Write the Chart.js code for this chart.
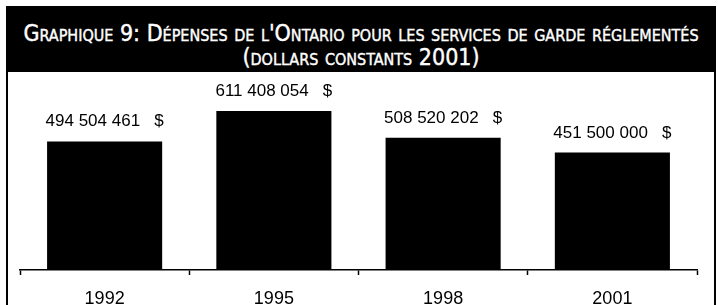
<!DOCTYPE html>
<html>
<head>
<meta charset="utf-8">
<script src="https://cdn.jsdelivr.net/npm/chart.js@4"></script>
<style>
  html, body { margin: 0; padding: 0; background: #fff; overflow: hidden; }
  body { width: 718px; height: 305px; position: relative; }
  #frame {
    position: absolute; left: 6px; top: 6px; width: 706px; height: 320px;
    border-left: 2px solid #000; border-right: 2px solid #000;
  }
  #header {
    height: 66px; background: #000; color: #fff; text-align: center;
    font-family: 'Liberation Sans Narrow', 'DejaVu Sans Condensed', 'Liberation Sans', sans-serif;
    font-stretch: condensed; font-variant: small-caps; font-size: 23px;
    -webkit-text-stroke: 0.4px #fff;
    line-height: 24px; padding-top: 15px; box-sizing: border-box; white-space: nowrap;
  }
  #wrap { position: absolute; left: 0; top: 66px; width: 706px; height: 250px; }
</style>
</head>
<body>
<div id="frame">
  <div id="header">Graphique 9: Dépenses de l'Ontario pour les services de garde réglementés<br>(dollars constants 2001)</div>
  <div id="wrap"><canvas id="spendChart"></canvas></div>
</div>
<script>
// Ontario regulated child care spending (constant 2001 dollars)
const years = ['1992', '1995', '1998', '2001'];
const spending = [494504461, 611408054, 508520202, 451500000];

function formatDollars(v) {
  return String(v).replace(/\B(?=(\d{3})+(?!\d))/g, ' ') + '   $';
}

// draw value labels above each bar
const valueLabels = {
  id: 'valueLabels',
  afterDatasetsDraw(chart) {
    const ctx = chart.ctx;
    const meta = chart.getDatasetMeta(0);
    ctx.save();
    ctx.fillStyle = '#000';
    ctx.font = '17px "Liberation Sans", Arial, sans-serif';
    ctx.textAlign = 'center';
    ctx.textBaseline = 'alphabetic';
    meta.data.forEach((bar, i) => {
      ctx.fillText(formatDollars(spending[i]), bar.x, bar.y - 15);
    });
    ctx.restore();
  }
};

const ctx = document.getElementById('spendChart').getContext('2d');
new Chart(ctx, {
  type: 'bar',
  data: {
    labels: years,
    datasets: [{
      data: spending,
      backgroundColor: '#000',
      categoryPercentage: 1,
      barPercentage: 0.68
    }]
  },
  options: {
    responsive: true,
    maintainAspectRatio: false,
    animation: false,
    layout: { padding: { left: 12, right: 17, top: 16, bottom: 0 } },
    plugins: {
      legend: { display: false },
      tooltip: { enabled: false }
    },
    scales: {
      x: {
        grid: {
          offset: true,
          drawOnChartArea: false,
          tickLength: 5,
          tickColor: '#000',
          tickWidth: 1.5
        },
        border: { display: true, color: '#000', width: 1.5 },
        ticks: {
          color: '#000',
          padding: 13,
          font: { family: '"Liberation Sans", Arial, sans-serif', size: 18 }
        },
        afterFit(scale) { scale.height = 52; }
      },
      y: {
        display: false,
        min: 0,
        max: 700000000
      }
    }
  },
  plugins: [valueLabels]
});
</script>
</body>
</html>
